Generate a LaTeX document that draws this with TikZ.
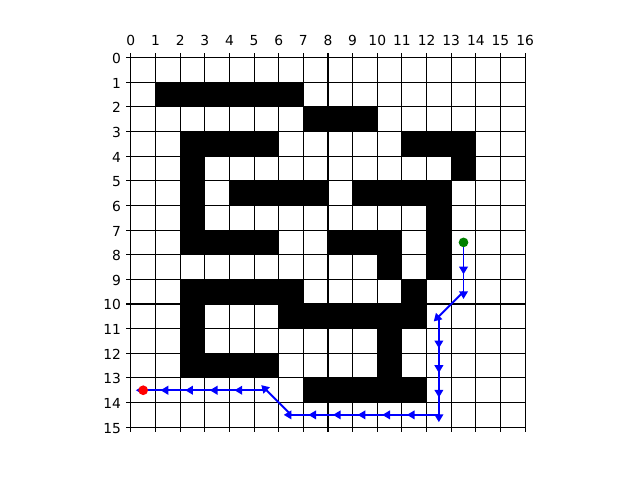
\documentclass[tikz,border=0pt]{standalone}
\usepackage{fontspec}
\setmainfont{DejaVu Sans}
\usetikzlibrary{arrows.meta}
\definecolor{mplgreen}{rgb}{0,0.5,0}
\definecolor{mplred}{rgb}{1,0,0}
\definecolor{mplblue}{rgb}{0,0,1}
\begin{document}
\begin{tikzpicture}[x=0.2464in,y=-0.2464in,
  gridline/.style={line width=0.8pt,black},
  wall/.style={fill=black},
  tickmark/.style={line width=0.8pt,black},
  toplab/.style={anchor=base,inner sep=0pt,yshift=9.1pt,font=\fontsize{10}{12}\selectfont},
  leftlab/.style={anchor=base east,inner sep=0pt,xshift=-7pt,yshift=-4.3pt,font=\fontsize{10}{12}\selectfont},
  move/.style={mplblue,line width=1.4pt,-{Triangle[length=5.6pt,width=6.2pt]},shorten >=-5.3pt},
  dot/.style={circle,inner sep=0pt,minimum size=7pt}]
\useasboundingbox (-5.3117,-2.3377) rectangle (20.6623,17.1429);
% walls
\foreach \xa/\ya/\xb/\yb in {1/1/7/2, 7/2/10/3, 2/3/6/4, 11/3/14/4, 2/4/3/5, 13/4/14/5,
  2/5/3/6, 4/5/8/6, 9/5/13/6, 2/6/3/7, 12/6/13/7, 2/7/6/8, 8/7/11/8, 12/7/13/8,
  10/8/11/9, 12/8/13/9, 2/9/7/10, 11/9/12/10, 2/10/3/11, 6/10/12/11,
  2/11/3/12, 10/11/11/12, 2/12/6/13, 10/12/11/13, 7/13/12/14}
  \fill[wall] (\xa,\ya) rectangle (\xb,\yb);
% grid
\foreach \i in {0,...,16} \draw[gridline] (\i,0) -- (\i,15);
\foreach \j in {0,...,15} \draw[gridline] (0,\j) -- (16,\j);
\draw[gridline] (0,0) rectangle (16,15);
% ticks and labels
\foreach \i in {0,...,16} {
  \draw[tickmark] (\i,0) -- ++(0,3.5pt);
  \draw[tickmark] (\i,15) -- ++(0,-3.5pt);
  \node[toplab] (xl\i) at (\i,0) {\i};
}
\foreach \j in {0,...,15} {
  \draw[tickmark] (0,\j) -- ++(-3.5pt,0);
  \node[leftlab] (yl\j) at (0,\j) {\j};
}
% path points
\coordinate (p0) at (13.5,7.5);
\coordinate (p1) at (13.5,8.5);
\coordinate (p2) at (13.5,9.5);
\coordinate (p3) at (12.5,10.5);
\coordinate (p4) at (12.5,11.5);
\coordinate (p5) at (12.5,12.5);
\coordinate (p6) at (12.5,13.5);
\coordinate (p7) at (12.5,14.5);
\coordinate (p8) at (11.5,14.5);
\coordinate (p9) at (10.5,14.5);
\coordinate (p10) at (9.5,14.5);
\coordinate (p11) at (8.5,14.5);
\coordinate (p12) at (7.5,14.5);
\coordinate (p13) at (6.5,14.5);
\coordinate (p14) at (5.5,13.5);
\coordinate (p15) at (4.5,13.5);
\coordinate (p16) at (3.5,13.5);
\coordinate (p17) at (2.5,13.5);
\coordinate (p18) at (1.5,13.5);
\coordinate (p19) at (0.5,13.5);
\foreach \a/\b in {0/1,1/2,2/3,3/4,4/5,5/6,6/7,7/8,8/9,9/10,10/11,11/12,12/13,13/14,14/15,15/16,16/17,17/18,18/19}
  \draw[move] (p\a) -- (p\b);
% start and goal
\node[dot,fill=mplgreen] (start) at (p0) {};
\node[dot,fill=mplred] (goal) at (p19) {};
\end{tikzpicture}
\end{document}
